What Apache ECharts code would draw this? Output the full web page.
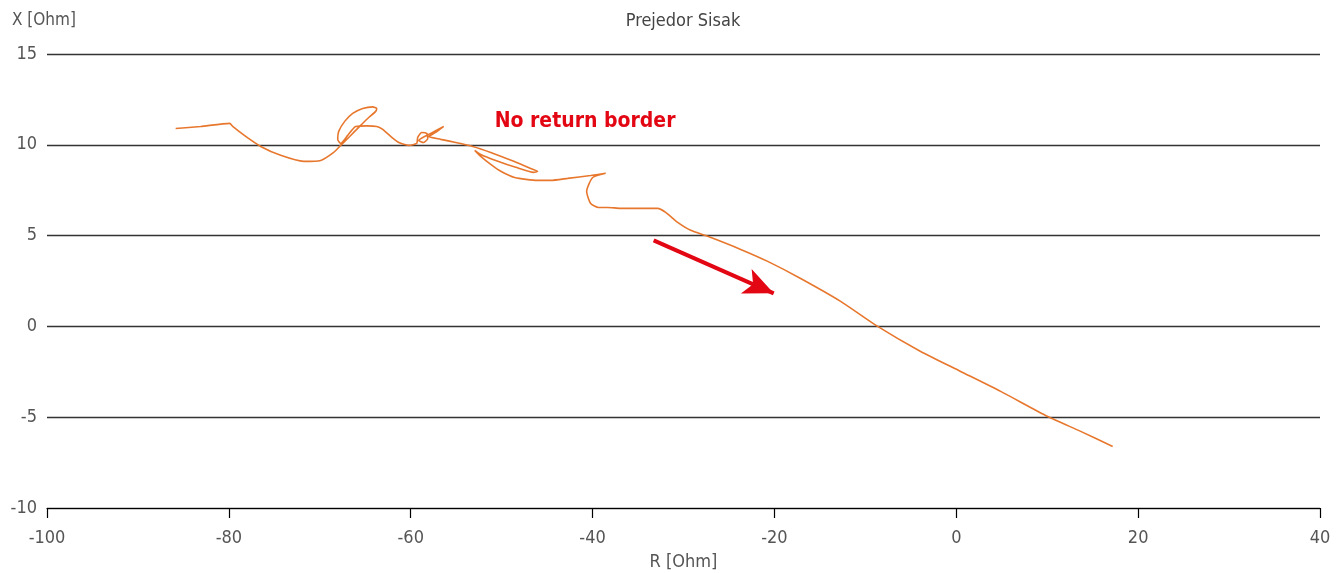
<!DOCTYPE html>
<html>
<head>
<meta charset="utf-8">
<title>Prejedor Sisak</title>
<script src="https://cdn.jsdelivr.net/npm/echarts@6/dist/echarts.min.js"></script>
<style>
  html, body { margin: 0; padding: 0; background: #fff; }
  #chart { width: 1337px; height: 573px; }
</style>
</head>
<body>
<div id="chart"></div>
<script>
// Impedance trajectory seen by the relay at Prejedor towards Sisak
const rValues = [
  -85.85, -83.10, -79.91, -79.58, -78.15, -76.50, -74.30, -71.77, -69.90, -68.47,
  -67.70, -66.71, -65.72, -64.73, -63.85, -63.74, -64.18, -65.28, -66.38, -67.26,
  -67.92, -68.03, -67.70, -66.93, -66.05, -64.84, -63.74, -63.08, -62.20, -61.32,
  -60.22, -59.34, -59.23, -58.79, -58.24, -58.13, -58.57, -59.12, -57.80, -56.37,
  -57.25, -58.02, -56.70, -55.05, -53.18, -51.20, -48.67, -46.81, -46.04, -46.48,
  -48.45, -50.65, -52.30, -52.96, -52.30, -51.20, -50.10, -48.57, -46.04, -44.61,
  -42.74, -40.21, -38.56, -39.99, -40.65, -40.21, -39.33, -38.34, -36.91, -32.84,
  -31.96, -30.64, -29.21, -27.34, -23.71, -20.74, -17.12, -12.72, -8.65, -3.92,
  0.48, 4.88, 10.05, 13.68, 17.20
];
const xValues = [
  10.90, 11.01, 11.18, 11.01, 10.46, 9.91, 9.42, 9.09, 9.14, 9.58,
  9.97, 10.46, 10.96, 11.45, 11.84, 12.00, 12.09, 12.00, 11.73, 11.29,
  10.74, 10.30, 10.08, 10.52, 11.01, 11.04, 11.01, 10.85, 10.46, 10.13,
  9.97, 10.08, 10.41, 10.68, 10.63, 10.35, 10.13, 10.24, 10.63, 11.01,
  10.68, 10.46, 10.30, 10.13, 9.91, 9.58, 9.09, 8.70, 8.54, 8.48,
  8.76, 9.14, 9.47, 9.69, 9.36, 8.92, 8.54, 8.20, 8.04, 8.04,
  8.15, 8.31, 8.43, 8.20, 7.43, 6.77, 6.55, 6.55, 6.50, 6.50,
  6.28, 5.73, 5.29, 4.96, 4.24, 3.58, 2.64, 1.38, 0.00, -1.38,
  -2.48, -3.58, -4.96, -5.78, -6.61
];

// Axis ranges and tick steps
const rAxis = { min: -100, max: 40, step: 20 };
const xAxisRange = { min: -10, max: 15, step: 5 };

// Annotation: label and direction arrow (in R/X coordinates)
const noteText = 'No return border';
const notePos = [-50.77, 11.29];
const arrowFrom = [-33.28, 4.74];
const arrowTo = [-20.08, 1.82];

const FONT = "'DejaVu Sans Condensed', 'DejaVu Sans', sans-serif";
const GREY = '#555555';
const RED = '#E30613';

const trajectory = rValues.map((r, i) => [r, xValues[i]]);

const chart = echarts.init(document.getElementById('chart'), null, { renderer: 'canvas' });

chart.setOption({
  animation: false,
  backgroundColor: '#ffffff',
  textStyle: { fontFamily: FONT },
  title: [
    {
      text: 'Prejedor Sisak',
      left: 678,
      textAlign: 'center',
      top: 7,
      textStyle: { fontFamily: FONT, fontSize: 18, fontWeight: 'normal', color: '#444444' }
    },
    {
      text: 'X [Ohm]',
      left: 7,
      top: 7,
      textStyle: { fontFamily: FONT, fontSize: 17, fontWeight: 'normal', color: GREY }
    }
  ],
  grid: { left: 47, right: 17, top: 54, bottom: 65, containLabel: false, outerBoundsMode: 'none' },
  xAxis: {
    type: 'value',
    min: rAxis.min,
    max: rAxis.max,
    interval: rAxis.step,
    name: 'R [Ohm]',
    nameLocation: 'middle',
    nameGap: 45,
    nameTextStyle: { fontFamily: FONT, fontSize: 18, color: GREY },
    axisLine: { show: true, onZero: false, lineStyle: { color: '#000', width: 1.2 } },
    axisTick: { show: true, length: 10, lineStyle: { color: '#000', width: 1.2 } },
    axisLabel: { fontFamily: FONT, fontSize: 18, color: GREY, margin: 21 },
    splitLine: { show: false }
  },
  yAxis: {
    type: 'value',
    min: xAxisRange.min,
    max: xAxisRange.max,
    interval: xAxisRange.step,
    axisLine: { show: false },
    axisTick: { show: false },
    axisLabel: { fontFamily: FONT, fontSize: 18, color: GREY, margin: 10 },
    splitLine: { show: true, lineStyle: { color: '#333333', width: 1.3 } }
  },
  series: [
    {
      type: 'line',
      data: trajectory,
      smooth: 0.2,
      showSymbol: false,
      symbol: 'none',
      lineStyle: { color: '#E8772E', width: 1.6 },
      z: 3,
      markPoint: {
        symbol: 'circle',
        symbolSize: 0,
        silent: true,
        data: [{
          coord: notePos,
          label: {
            show: true,
            formatter: noteText,
            position: 'right',
            distance: 0,
            color: RED,
            fontFamily: FONT,
            fontSize: 21,
            fontWeight: 'bold'
          }
        }]
      },
      markLine: {
        silent: true,
        symbol: ['none', 'arrow'],
        symbolSize: [20, 30],
        label: { show: false },
        lineStyle: { color: RED, width: 4, type: 'solid' },
        data: [[{ coord: arrowFrom }, { coord: arrowTo }]]
      }
    }
  ]
});
</script>
</body>
</html>
